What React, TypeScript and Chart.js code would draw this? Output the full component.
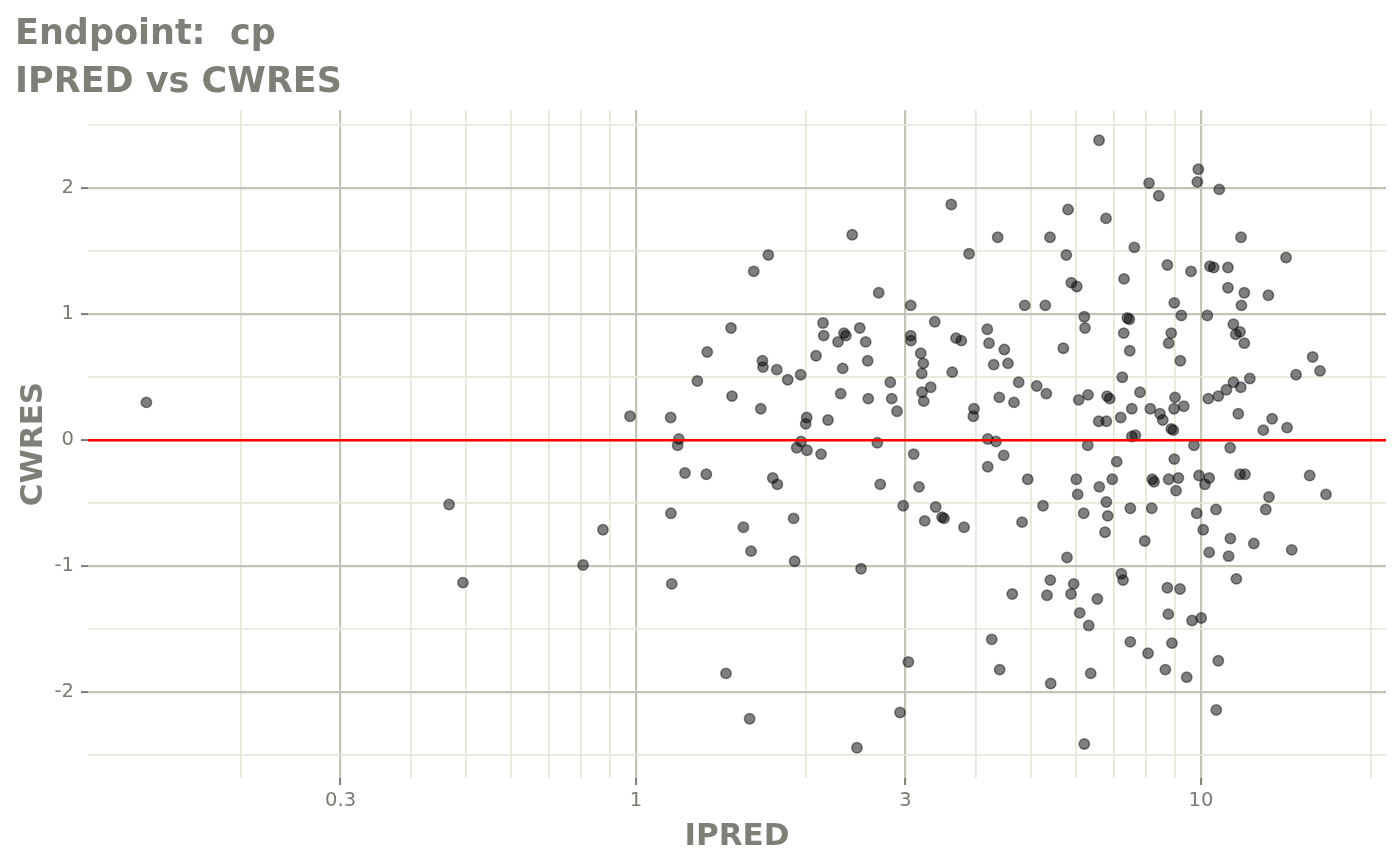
import { useEffect, useRef } from 'react';
import { Chart, registerables } from 'chart.js';

Chart.register(...registerables);

// IPRED (x) and CWRES (y), same order in both arrays
const ipred = [
  0.136, 0.467, 0.494, 0.806, 0.874, 0.976,
  1.715, 1.616, 2.143, 2.149, 1.473, 1.337, 2.083, 1.674, 1.678, 1.775,
  1.284, 1.856, 1.956, 1.479, 1.663, 1.152, 2.005, 1.997, 2.187, 1.191,
  1.185, 1.959, 1.925, 2.007, 2.126, 1.221, 1.332, 1.746, 1.779, 1.153,
  1.901, 1.549, 1.598, 1.909, 1.157, 1.443, 1.589,
  3.614, 2.414, 4.367, 3.886, 2.689, 3.064, 3.379, 4.186, 2.334, 2.353,
  2.489, 2.278, 2.55, 3.064, 3.067, 3.685, 3.765, 4.215, 4.486, 2.571,
  2.322, 3.191, 3.225, 3.204, 3.629, 4.296, 4.554, 2.819, 2.303, 2.577,
  2.835, 3.324, 3.208, 3.23, 2.897, 4.395, 4.667, 3.965, 3.954, 2.674,
  4.193, 4.337, 3.101, 4.475, 4.193, 2.706, 3.169, 2.972, 3.392, 3.243,
  3.48, 3.509, 3.807, 2.502, 4.634, 4.262, 3.034, 4.402, 2.933, 2.461,
  6.6, 8.091, 8.417, 5.817, 6.79, 5.404, 7.62, 5.776, 8.718, 9.6,
  7.307, 5.894, 6.026, 4.875, 5.302, 8.967, 9.229, 6.215, 6.232, 7.406,
  7.467, 7.298, 8.858, 8.766, 5.705, 7.479, 9.193, 4.757, 5.12, 5.324,
  7.256, 6.074, 6.31, 6.818, 6.893, 7.798, 8.995, 8.959, 9.32, 7.541,
  8.134, 8.461, 8.556, 6.591, 6.799, 7.209, 8.858, 8.933, 7.541, 7.652,
  6.302, 7.092, 8.967, 4.935, 6.016, 6.966, 8.2, 8.257, 8.766, 9.118,
  9.032, 6.607, 6.05, 5.253, 6.799, 7.497, 8.18, 6.199, 6.838, 4.822,
  6.763, 7.95, 5.792, 7.228, 7.278, 5.411, 5.952, 5.339, 5.887, 6.554,
  8.718, 9.181, 8.752, 9.641, 6.1, 6.327, 7.497, 8.058, 8.884, 6.379,
  5.42, 8.647, 9.434, 6.215,
  9.89, 9.851, 10.77, 11.77, 14.14, 10.37, 10.53, 11.16, 11.16, 11.93,
  13.16, 11.79, 10.26, 11.41, 11.52, 11.72, 11.93, 15.76, 16.24, 14.73,
  12.2, 11.41, 11.76, 11.09, 10.73, 10.3, 11.64, 13.36, 12.89, 14.2,
  9.718, 11.26, 9.919, 10.34, 10.16, 11.72, 11.96, 15.57, 16.64, 13.19,
  9.827, 10.63, 13.02, 10.09, 11.27, 12.4, 14.47, 10.34, 11.19, 11.55,
  10.01, 10.73, 10.64,
];

const cwres = [
  0.3, -0.51, -1.13, -0.99, -0.71, 0.19,
  1.47, 1.34, 0.93, 0.83, 0.89, 0.7, 0.67, 0.63, 0.58, 0.56,
  0.47, 0.48, 0.52, 0.35, 0.25, 0.18, 0.18, 0.13, 0.16, 0.01,
  -0.04, -0.01, -0.06, -0.08, -0.11, -0.26, -0.27, -0.3, -0.35, -0.58,
  -0.62, -0.69, -0.88, -0.96, -1.14, -1.85, -2.21,
  1.87, 1.63, 1.61, 1.48, 1.17, 1.07, 0.94, 0.88, 0.85, 0.83,
  0.89, 0.78, 0.78, 0.83, 0.79, 0.81, 0.79, 0.77, 0.72, 0.63,
  0.57, 0.69, 0.61, 0.53, 0.54, 0.6, 0.61, 0.46, 0.37, 0.33,
  0.33, 0.42, 0.38, 0.31, 0.23, 0.34, 0.3, 0.25, 0.19, -0.02,
  0.01, -0.01, -0.11, -0.12, -0.21, -0.35, -0.37, -0.52, -0.53, -0.64,
  -0.61, -0.62, -0.69, -1.02, -1.22, -1.58, -1.76, -1.82, -2.16, -2.44,
  2.38, 2.04, 1.94, 1.83, 1.76, 1.61, 1.53, 1.47, 1.39, 1.34,
  1.28, 1.25, 1.22, 1.07, 1.07, 1.09, 0.99, 0.98, 0.89, 0.97,
  0.96, 0.85, 0.85, 0.77, 0.73, 0.71, 0.63, 0.46, 0.43, 0.37,
  0.5, 0.32, 0.36, 0.35, 0.33, 0.38, 0.34, 0.25, 0.27, 0.25,
  0.25, 0.21, 0.16, 0.15, 0.15, 0.18, 0.09, 0.08, 0.03, 0.04,
  -0.04, -0.17, -0.15, -0.31, -0.31, -0.31, -0.31, -0.33, -0.31, -0.3,
  -0.4, -0.37, -0.43, -0.52, -0.49, -0.54, -0.54, -0.58, -0.6, -0.65,
  -0.73, -0.8, -0.93, -1.06, -1.11, -1.11, -1.14, -1.23, -1.22, -1.26,
  -1.17, -1.18, -1.38, -1.43, -1.37, -1.47, -1.6, -1.69, -1.61, -1.85,
  -1.93, -1.82, -1.88, -2.41,
  2.15, 2.05, 1.99, 1.61, 1.45, 1.38, 1.37, 1.37, 1.21, 1.17,
  1.15, 1.07, 0.99, 0.92, 0.84, 0.86, 0.77, 0.66, 0.55, 0.52,
  0.49, 0.46, 0.42, 0.4, 0.35, 0.33, 0.21, 0.17, 0.08, 0.1,
  -0.04, -0.06, -0.28, -0.3, -0.35, -0.27, -0.27, -0.28, -0.43, -0.45,
  -0.58, -0.55, -0.55, -0.71, -0.78, -0.82, -0.87, -0.89, -0.92, -1.1,
  -1.41, -1.75, -2.14,
];

const xMajorTicks = [0.3, 1, 3, 10];
const xTickLabels = ['0.3', '1', '3', '10'];
const xMinorTicks = [0.2, 0.4, 0.5, 0.6, 0.7, 0.8, 0.9, 2, 4, 5, 6, 7, 8, 9, 20];
const yMajorTicks = [-2, -1, 0, 1, 2];
const yTickLabels = ['-2', '-1', '0', '1', '2'];
const yMinorTicks = [-2.5, -1.5, -0.5, 0.5, 1.5, 2.5];

const xLimits = [0.1072, 21.25];
const yLimits = [-2.68, 2.62];
const refLineY = 0;

const FONT = '"DejaVu Sans", sans-serif';
const TEXT_COLOR = '#7f7f77';
const TICK_COLOR = '#7b7b73';
const MAJOR_GRID = '#c4c4b8';
const MINOR_GRID = '#e8e8da';

export default function App() {
  const chartRef = useRef<HTMLCanvasElement>(null);
  const chartInstance = useRef<Chart | null>(null);

  useEffect(() => {
    document.body.style.margin = '0';
    if (!chartRef.current) return;
    if (chartInstance.current) chartInstance.current.destroy();

    const ctx = chartRef.current.getContext('2d');
    if (!ctx) return;

    const isXMajor = (v: number) => xMajorTicks.includes(v);
    const isYMajor = (v: number) => yMajorTicks.includes(v);

    chartInstance.current = new Chart(ctx, {
      type: 'scatter',
      data: {
        datasets: [
          {
            type: 'line',
            label: 'zero',
            data: xLimits.map((x) => ({ x, y: refLineY })),
            borderColor: '#ff0000',
            borderWidth: 2.4,
            pointRadius: 0,
            order: 0,
          },
          {
            type: 'scatter',
            label: 'CWRES',
            data: ipred.map((x, i) => ({ x, y: cwres[i] })),
            backgroundColor: 'rgba(0, 0, 0, 0.5)',
            borderColor: 'rgba(0, 0, 0, 0.45)',
            borderWidth: 1.5,
            pointRadius: 5.2,
            order: 1,
          },
        ],
      },
      options: {
        animation: false,
        responsive: true,
        maintainAspectRatio: false,
        layout: { padding: { left: 15, right: 14, top: 0, bottom: 0 } },
        plugins: {
          legend: { display: false },
          tooltip: { enabled: false },
          title: {
            display: true,
            text: ['Endpoint:  cp', 'IPRED vs CWRES'],
            align: 'start',
            color: TEXT_COLOR,
            font: { family: FONT, size: 35, weight: 'bold', lineHeight: 48 / 35 },
            padding: { top: 11, bottom: 3 },
          },
        },
        scales: {
          x: {
            type: 'logarithmic',
            min: xLimits[0],
            max: xLimits[1],
            afterBuildTicks: (scale) => {
              scale.ticks = [...xMinorTicks, ...xMajorTicks]
                .sort((a, b) => a - b)
                .map((value) => ({ value }));
            },
            afterFit: (scale) => {
              scale.height = 87;
            },
            border: { display: false },
            grid: {
              color: (c) => (isXMajor(c.tick.value) ? MAJOR_GRID : MINOR_GRID),
              lineWidth: (c) => (isXMajor(c.tick.value) ? 2.2 : 1.8),
              tickColor: (c) => (isXMajor(c.tick.value) ? TICK_COLOR : 'rgba(0,0,0,0)'),
              tickLength: 7,
              tickWidth: 2,
            },
            ticks: {
              autoSkip: false,
              maxRotation: 0,
              padding: 4,
              color: TICK_COLOR,
              font: { family: FONT, size: 19.5 },
              callback: (value) => {
                const i = xMajorTicks.indexOf(Number(value));
                return i >= 0 ? xTickLabels[i] : '';
              },
            },
            title: {
              display: true,
              text: 'IPRED',
              color: TEXT_COLOR,
              font: { family: FONT, size: 31, weight: 'bold' },
              padding: { top: 0, bottom: 9 },
            },
          },
          y: {
            type: 'linear',
            min: yLimits[0],
            max: yLimits[1],
            afterBuildTicks: (scale) => {
              scale.ticks = [...yMinorTicks, ...yMajorTicks]
                .sort((a, b) => a - b)
                .map((value) => ({ value }));
            },
            afterFit: (scale) => {
              scale.width = 73;
            },
            border: { display: false },
            grid: {
              color: (c) => (isYMajor(c.tick.value) ? MAJOR_GRID : MINOR_GRID),
              lineWidth: (c) => (isYMajor(c.tick.value) ? 2.2 : 1.8),
              tickColor: (c) => (isYMajor(c.tick.value) ? TICK_COLOR : 'rgba(0,0,0,0)'),
              tickLength: 7,
              tickWidth: 2,
            },
            ticks: {
              autoSkip: false,
              padding: 7,
              color: TICK_COLOR,
              font: { family: FONT, size: 19.5 },
              callback: (value) => {
                const i = yMajorTicks.indexOf(Number(value));
                return i >= 0 ? yTickLabels[i] : '';
              },
            },
            title: {
              display: true,
              text: 'CWRES',
              color: TEXT_COLOR,
              font: { family: FONT, size: 31, weight: 'bold' },
              padding: { top: 0, bottom: 0 },
            },
          },
        },
      },
    });

    return () => {
      if (chartInstance.current) {
        chartInstance.current.destroy();
        chartInstance.current = null;
      }
    };
  }, []);

  return (
    <div style={{ position: 'relative', width: 1400, height: 865 }}>
      <canvas ref={chartRef} />
    </div>
  );
}
